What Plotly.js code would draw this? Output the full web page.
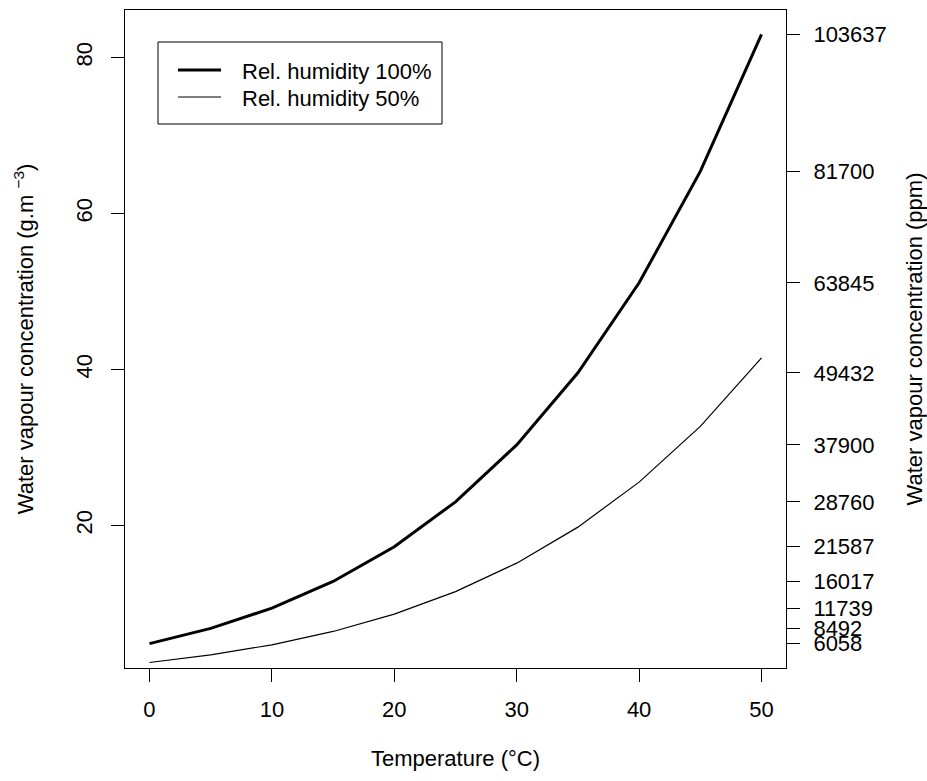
<!DOCTYPE html>
<html>
<head>
<meta charset="utf-8">
<script src="https://cdn.plot.ly/plotly-3.0.1.min.js"></script>
<style>html,body{margin:0;padding:0;background:#fff;}#chart{width:927px;height:781px;}</style>
</head>
<body>
<div id="chart"></div>
<script>
// Temperature (°C)
var temperature = [0, 5, 10, 15, 20, 25, 30, 35, 40, 45, 50];
// Water vapour concentration (g.m-3) at 100 % relative humidity
var rh100 = [4.85, 6.80, 9.40, 12.82, 17.28, 23.03, 30.34, 39.58, 51.12, 65.41, 82.98];
// Water vapour concentration (g.m-3) at 50 % relative humidity
var rh50 = [2.43, 3.40, 4.70, 6.41, 8.64, 11.52, 15.17, 19.79, 25.56, 32.71, 41.49];
// Right-axis labels (ppm) at the 100 % curve values
var ppmLabels = ["6058", "8492", "11739", "16017", "21587", "28760", "37900", "49432", "63845", "81700", "103637"];
var leftTicks = [20, 40, 60, 80];
var xTicks = [0, 10, 20, 30, 40, 50];
var seriesNames = ["Rel. humidity 100%", "Rel. humidity 50%"];

var FONT = "Liberation Sans, Arial, Helvetica, sans-serif";
var FS = 22;

var ymin = Math.min.apply(null, rh100), ymax = Math.max.apply(null, rh100);
var pad = 0.04 * (ymax - ymin);
var yRange = [ymin - pad, ymax + pad];
var xRange = [-2, 52];

var W = [3, 1.2];

var traces = [
  {x: temperature, y: rh100, type: "scatter", mode: "lines", name: seriesNames[0],
   line: {color: "#000", width: W[0]}},
  {x: temperature, y: rh50, type: "scatter", mode: "lines", name: seriesNames[1],
   line: {color: "#000", width: W[1]}},
  {x: temperature, y: rh100, type: "scatter", mode: "lines", yaxis: "y2",
   line: {color: "rgba(0,0,0,0)", width: 0}, showlegend: false, hoverinfo: "skip"}
];

// plot area in pixels: x 125..786, y 10..668
function px(x) { return (x - 125) / 661; }
function py(y) { return (668 - y) / 658; }

var shapes = [
  {type: "rect", xref: "paper", yref: "paper", x0: px(158), x1: px(442), y0: py(124), y1: py(42),
   line: {color: "#000", width: 1}, fillcolor: "rgba(0,0,0,0)"},
  {type: "line", xref: "paper", yref: "paper", x0: px(178), x1: px(221), y0: py(70), y1: py(70),
   line: {color: "#000", width: W[0]}},
  {type: "line", xref: "paper", yref: "paper", x0: px(178), x1: px(221), y0: py(97), y1: py(97),
   line: {color: "#000", width: W[1]}}
];
var annotations = [
  {xref: "paper", yref: "paper", x: px(240), y: py(71), xanchor: "left", yanchor: "middle",
   text: seriesNames[0], showarrow: false, font: {family: FONT, size: FS, color: "#000"}},
  {xref: "paper", yref: "paper", x: px(240), y: py(98), xanchor: "left", yanchor: "middle",
   text: seriesNames[1], showarrow: false, font: {family: FONT, size: FS, color: "#000"}}
];

var layout = {
  width: 927, height: 781,
  margin: {l: 125, r: 141, t: 10, b: 113},
  paper_bgcolor: "#fff", plot_bgcolor: "#fff",
  font: {family: FONT, size: FS, color: "#000"},
  showlegend: false,
  xaxis: {range: xRange, tickvals: xTicks, ticks: "outside", ticklen: 13, tickwidth: 1,
          tickcolor: "#000", showline: true, mirror: true, linecolor: "#000", linewidth: 1,
          showgrid: false, zeroline: false, ticklabelstandoff: 9,
          title: {text: "Temperature (°C)", standoff: 29, font: {family: FONT, size: FS}}},
  yaxis: {range: yRange, tickvals: leftTicks, ticks: "outside", ticklen: 13, tickwidth: 1,
          tickcolor: "#000", showline: true, mirror: true, linecolor: "#000", linewidth: 1,
          showgrid: false, zeroline: false, tickangle: -90, ticklabelstandoff: 10,
          title: {text: "Water vapour concentration (g.m <sup>−3</sup>)", standoff: 32,
                  font: {family: FONT, size: FS}}},
  yaxis2: {range: yRange, overlaying: "y", side: "right", tickvals: rh100, ticktext: ppmLabels,
           ticks: "outside", ticklen: 13, tickwidth: 1, tickcolor: "#000",
           showline: false, showgrid: false, zeroline: false, ticklabelstandoff: 9,
           title: {text: "Water vapour concentration (ppm)", standoff: 22,
                   font: {family: FONT, size: FS}}},
  shapes: shapes,
  annotations: annotations
};

Plotly.newPlot("chart", traces, layout, {displayModeBar: false, staticPlot: true});
</script>
</body>
</html>
